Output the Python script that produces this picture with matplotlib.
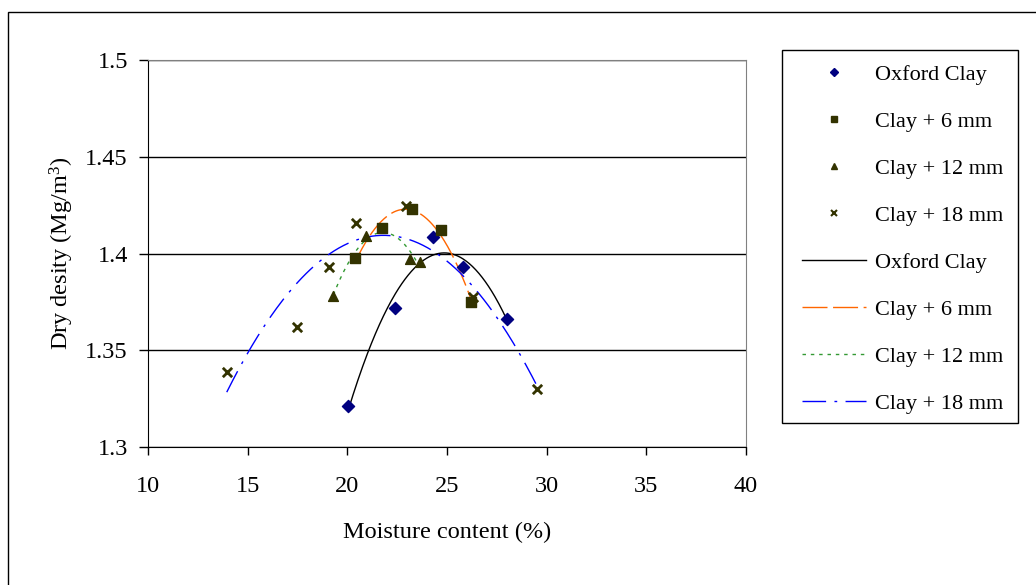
import numpy as np
import matplotlib
matplotlib.use("Agg")
from matplotlib import pyplot as plt
from matplotlib.lines import Line2D
from matplotlib.patches import Rectangle

plt.rcParams["font.family"] = ["Liberation Serif", "DejaVu Serif"]
plt.rcParams["mathtext.fontset"] = "custom"
plt.rcParams["mathtext.rm"] = "Liberation Serif"
plt.rcParams["mathtext.it"] = "Liberation Serif:italic"

# moisture content (%) and dry density (Mg/m3)
oxford_x = [20.05, 22.4, 24.3, 25.8, 28.0]
oxford_y = [1.321, 1.372, 1.4085, 1.393, 1.366]
clay6_x = [20.4, 21.75, 23.25, 24.7, 26.2]
clay6_y = [1.3977, 1.4132, 1.423, 1.412, 1.375]
clay12_x = [19.3, 20.95, 23.15, 23.65]
clay12_y = [1.378, 1.409, 1.397, 1.3956]
clay18_x = [13.95, 17.45, 19.1, 20.45, 22.95, 26.3, 29.5]
clay18_y = [1.339, 1.362, 1.393, 1.416, 1.4245, 1.3775, 1.33]

labels = ["Oxford Clay", "Clay + 6 mm", "Clay + 12 mm", "Clay + 18 mm"]
MARKER_COLORS = ["#000080", "#333300", "#333300", "#333300"]
MARKERS = ["D", "s", "^", "x"]
LINE_COLORS = ["black", "#FF6600", "#339933", "#0000FF"]
LINE_DASHES = [None, (18, 4), (2.5, 3.5), (17, 6, 2, 6)]

W, H = 1036, 585


def trend(x, y, deg=2):
    # second order trend line through each series
    coef = np.polyfit(x, y, deg)
    xs = np.linspace(min(x), max(x), 200)
    return xs, np.polyval(coef, xs)


def run():
    fig = plt.figure(figsize=(W / 100, H / 100), dpi=100)
    ax = fig.add_axes([148 / W, 138 / H, 598 / W, 387 / H])

    series = [(oxford_x, oxford_y), (clay6_x, clay6_y),
              (clay12_x, clay12_y), (clay18_x, clay18_y)]

    for (x, y), c, d in zip(series, LINE_COLORS, LINE_DASHES):
        xs, ys = trend(x, y)
        ln, = ax.plot(xs, ys, color=c, lw=1.0, zorder=2)
        if d is not None:
            ln.set_dashes(d)

    for (x, y), m, c in zip(series, MARKERS, MARKER_COLORS):
        if m == "x":
            ax.scatter(x, y, marker=m, s=45, color=c, linewidths=2, zorder=3)
        else:
            ax.scatter(x, y, marker=m, s=50 if m != "D" else 38,
                       color=c, edgecolors=c, zorder=3)

    ax.set_xlim(10, 40)
    ax.set_ylim(1.3, 1.5)
    ax.set_xticks(range(10, 41, 5))
    ax.set_yticks([1.3, 1.35, 1.4, 1.45, 1.5])
    ax.set_yticklabels(["1.3", "1.35", "1.4", "1.45", "1.5"])
    ax.yaxis.grid(True, color="black", lw=1.0)
    ax.set_axisbelow(True)
    ax.tick_params(axis="both", direction="out", labelsize=17.5, width=1,
                   color="black")
    ax.tick_params(axis="x", length=6, pad=15)
    ax.tick_params(axis="y", length=6.5, pad=8)
    for side in ["top", "right"]:
        ax.spines[side].set_color("#808080")

    ax.set_xlabel("Moisture content (%)", fontsize=17.5, labelpad=18)
    ax.set_ylabel("Dry desity (Mg/m$^3$)", fontsize=17.5, labelpad=7)

    legend_lines = [Line2D([0], [0], color=c, lw=1.0) for c in LINE_COLORS]
    for ln, d in zip(legend_lines, LINE_DASHES):
        if d is not None:
            ln.set_dashes(d)
    legend_markers = [
        Line2D([0], [0], ls="none", marker=m, color=c,
               markersize=5 if m != "D" else 4.5, mew=1.5 if m == "x" else 1)
        for m, c in zip(MARKERS, MARKER_COLORS)
    ]
    fig.legend(legend_markers + legend_lines, labels + labels,
               loc="upper left", bbox_to_anchor=(802 / W, 1 - 64.5 / H),
               fontsize=16, frameon=False, labelspacing=1.19,
               handlelength=2.9, handletextpad=0.4, borderpad=0,
               borderaxespad=0)
    # legend frame
    fig.patches.append(Rectangle((782 / W, 1 - 423 / H), 236 / W, 373 / H,
                                 transform=fig.transFigure, fill=False,
                                 edgecolor="black", lw=1.0))

    # outer chart border
    fig.patches.append(Rectangle((8 / W, -0.1), 1.2, 1.1 - 12 / H,
                                 transform=fig.transFigure, fill=False,
                                 edgecolor="black", lw=1.0, clip_on=False))

    fig.savefig("out.png", dpi=100)


if __name__ == "__main__":
    run()
